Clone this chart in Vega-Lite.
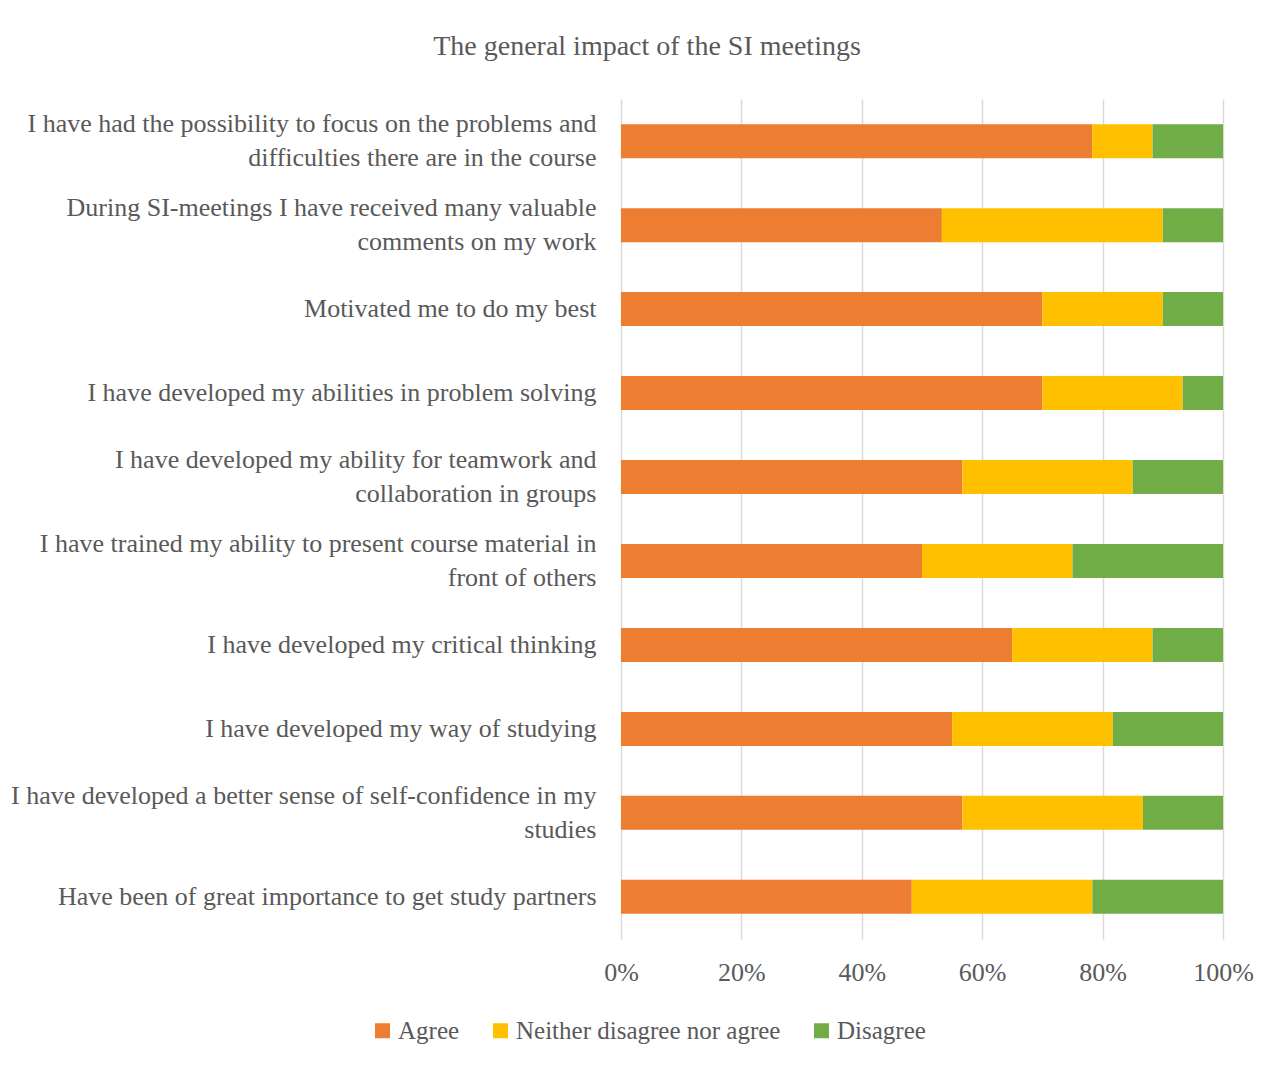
{
  "$schema": "https://vega.github.io/schema/vega-lite/v6.json",
  "autosize": {"type": "none"},
  "width": 602,
  "height": 840,
  "padding": {"left": 621, "top": 99, "right": 62, "bottom": 129},
  "background": "white",
  "title": {
    "text": "The general impact of the SI meetings",
    "anchor": "middle",
    "dx": -275,
    "offset": 38,
    "font": "Liberation Serif",
    "fontSize": 28,
    "fontWeight": "normal",
    "color": "#595959"
  },
  "data": {
    "values": [
      {"question": "I have had the possibility to focus on the problems and\ndifficulties there are in the course", "response": "Agree", "rank": 1, "value": 78.3},
      {"question": "I have had the possibility to focus on the problems and\ndifficulties there are in the course", "response": "Neither disagree nor agree", "rank": 2, "value": 10.0},
      {"question": "I have had the possibility to focus on the problems and\ndifficulties there are in the course", "response": "Disagree", "rank": 3, "value": 11.7},
      {"question": "During SI-meetings I have received many valuable\ncomments on my work", "response": "Agree", "rank": 1, "value": 53.3},
      {"question": "During SI-meetings I have received many valuable\ncomments on my work", "response": "Neither disagree nor agree", "rank": 2, "value": 36.7},
      {"question": "During SI-meetings I have received many valuable\ncomments on my work", "response": "Disagree", "rank": 3, "value": 10.0},
      {"question": "Motivated me to do my best", "response": "Agree", "rank": 1, "value": 70.0},
      {"question": "Motivated me to do my best", "response": "Neither disagree nor agree", "rank": 2, "value": 20.0},
      {"question": "Motivated me to do my best", "response": "Disagree", "rank": 3, "value": 10.0},
      {"question": "I have developed my abilities in problem solving", "response": "Agree", "rank": 1, "value": 70.0},
      {"question": "I have developed my abilities in problem solving", "response": "Neither disagree nor agree", "rank": 2, "value": 23.3},
      {"question": "I have developed my abilities in problem solving", "response": "Disagree", "rank": 3, "value": 6.7},
      {"question": "I have developed my ability for teamwork and\ncollaboration in groups", "response": "Agree", "rank": 1, "value": 56.7},
      {"question": "I have developed my ability for teamwork and\ncollaboration in groups", "response": "Neither disagree nor agree", "rank": 2, "value": 28.3},
      {"question": "I have developed my ability for teamwork and\ncollaboration in groups", "response": "Disagree", "rank": 3, "value": 15.0},
      {"question": "I have trained my ability to present course material in\nfront of others", "response": "Agree", "rank": 1, "value": 50.0},
      {"question": "I have trained my ability to present course material in\nfront of others", "response": "Neither disagree nor agree", "rank": 2, "value": 25.0},
      {"question": "I have trained my ability to present course material in\nfront of others", "response": "Disagree", "rank": 3, "value": 25.0},
      {"question": "I have developed my critical thinking", "response": "Agree", "rank": 1, "value": 65.0},
      {"question": "I have developed my critical thinking", "response": "Neither disagree nor agree", "rank": 2, "value": 23.3},
      {"question": "I have developed my critical thinking", "response": "Disagree", "rank": 3, "value": 11.7},
      {"question": "I have developed my way of studying", "response": "Agree", "rank": 1, "value": 55.0},
      {"question": "I have developed my way of studying", "response": "Neither disagree nor agree", "rank": 2, "value": 26.7},
      {"question": "I have developed my way of studying", "response": "Disagree", "rank": 3, "value": 18.3},
      {"question": "I have developed a better sense of self-confidence in my\nstudies", "response": "Agree", "rank": 1, "value": 56.7},
      {"question": "I have developed a better sense of self-confidence in my\nstudies", "response": "Neither disagree nor agree", "rank": 2, "value": 30.0},
      {"question": "I have developed a better sense of self-confidence in my\nstudies", "response": "Disagree", "rank": 3, "value": 13.3},
      {"question": "Have been of great importance to get study partners", "response": "Agree", "rank": 1, "value": 48.3},
      {"question": "Have been of great importance to get study partners", "response": "Neither disagree nor agree", "rank": 2, "value": 30.0},
      {"question": "Have been of great importance to get study partners", "response": "Disagree", "rank": 3, "value": 21.7}
    ]
  },
  "mark": {"type": "bar"},
  "encoding": {
    "y": {
      "field": "question",
      "type": "nominal",
      "sort": null,
      "scale": {"paddingInner": 0.595, "paddingOuter": 0.3},
      "axis": {
        "title": null,
        "domain": false,
        "ticks": false,
        "labelExpr": "split(datum.label, '\\n')",
        "labelLineHeight": 34,
        "labelOffset": {"condition": {"test": "indexof(datum.value, '\\n') >= 0", "value": -17}, "value": 0},
        "labelPadding": 25,
        "labelLimit": 700,
        "labelFont": "Liberation Serif",
        "labelFontSize": 26,
        "labelColor": "#595959"
      }
    },
    "x": {
      "field": "value",
      "type": "quantitative",
      "stack": "normalize",
      "scale": {"domain": [0, 1]},
      "axis": {
        "title": null,
        "values": [0, 0.2, 0.4, 0.6, 0.8, 1],
        "format": ".0%",
        "domain": false,
        "ticks": false,
        "grid": true,
        "gridColor": "#d9d9d9",
        "gridWidth": 1.5,
        "labelFlush": false,
        "labelPadding": 20,
        "labelFont": "Liberation Serif",
        "labelFontSize": 26,
        "labelColor": "#595959"
      }
    },
    "color": {
      "field": "response",
      "type": "nominal",
      "scale": {
        "domain": ["Agree", "Neither disagree nor agree", "Disagree"],
        "range": ["#ED7D31", "#FFC000", "#70AD47"]
      },
      "legend": {
        "title": null,
        "orient": "none",
        "direction": "horizontal",
        "legendX": -251,
        "legendY": 919,
        "symbolType": "square",
        "symbolSize": 225,
        "symbolStrokeWidth": 0,
        "labelFont": "Liberation Serif",
        "labelFontSize": 25,
        "labelColor": "#595959",
        "labelOffset": 3,
        "columnPadding": 28,
        "labelLimit": 400
      }
    },
    "order": {"field": "rank", "type": "quantitative"}
  },
  "config": {
    "view": {"stroke": null}
  }
}
